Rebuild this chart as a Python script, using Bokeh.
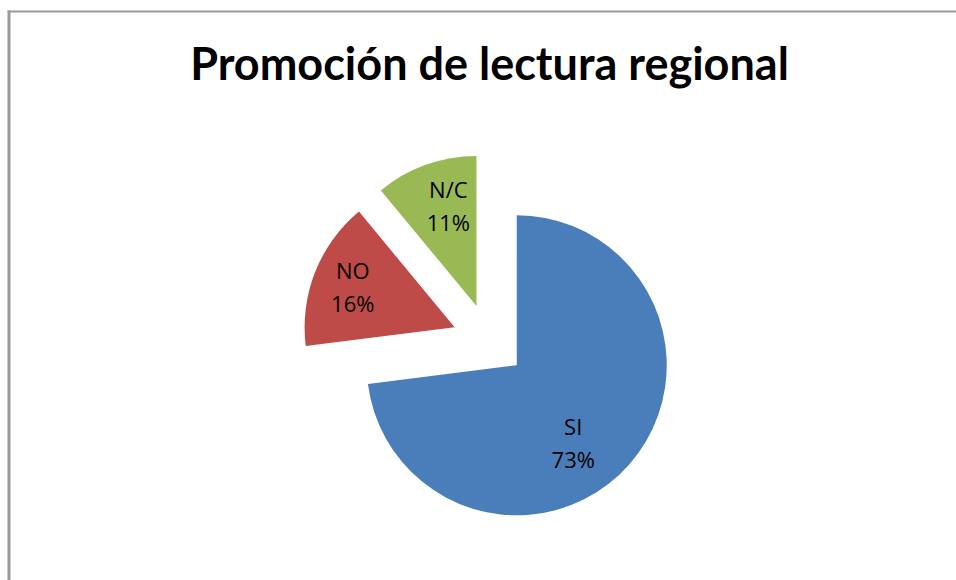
import math
from bokeh.plotting import figure
from bokeh.models import Range1d, ColumnDataSource
from bokeh.core.properties import value
from bokeh.embed import file_html
from bokeh.resources import INLINE

# ---- data ----
categories = ["SI", "NO", "N/C"]
percents = [73, 16, 11]
colors = ["#4A7EBB", "#BE4B48", "#98B954"]
title_text = "Promoción de lectura regional"

# ---- layout (screen px) ----
W, H = 956, 580
cx, cy_screen = 488.5, 340.3
cy = H - cy_screen
R = 150
EXPLODE = 37
label_r = [97, 109, 102]
label_shift = [-13.0, 0.7, -3.8]
line_gap = 16.5

p = figure(width=W, height=H, output_backend="svg", toolbar_location=None,
           x_range=Range1d(0, W), y_range=Range1d(0, H),
           min_border=0)
p.axis.visible = False
p.grid.visible = False
p.outline_line_color = None
p.background_fill_color = "white"
p.border_fill_color = "white"

total = sum(percents)
xs, ys, sa, ea, lx, ly = [], [], [], [], [], []
cum = 0.0
for i, v in enumerate(percents):
    s = cum / total
    e = (cum + v) / total
    cum += v
    th_s = math.radians(90 - s * 360)
    th_e = math.radians(90 - e * 360)
    mid = (th_s + th_e) / 2
    vx = cx + EXPLODE * math.cos(mid)
    vy = cy + EXPLODE * math.sin(mid)
    xs.append(vx); ys.append(vy); sa.append(th_e); ea.append(th_s)
    la = mid + math.radians(label_shift[i])
    lx.append(vx + label_r[i] * math.cos(la))
    ly.append(vy + label_r[i] * math.sin(la))

src = ColumnDataSource(dict(x=xs, y=ys, start=sa, end=ea, color=colors,
                            lx=lx, ly_top=[y + line_gap + 2 for y in ly],
                            ly_bot=[y - line_gap + 2 for y in ly],
                            name=categories, pct=[f"{v}%" for v in percents]))

p.wedge(x="x", y="y", radius=R, start_angle="start", end_angle="end",
        fill_color="color", line_color=None, source=src)

p.text(x="lx", y="ly_top", text="name", source=src, text_align="center",
       text_baseline="middle", text_font=value("Open Sans"), text_font_size="22px",
       text_color="black")
p.text(x="lx", y="ly_bot", text="pct", source=src, text_align="center",
       text_baseline="middle", text_font=value("Open Sans"), text_font_size="22px",
       text_color="black")

# title
p.text(x=[489], y=[H - 62], text=[title_text], text_align="center",
       text_baseline="alphabetic", text_font=value("Lato"),
       text_font_style="bold", text_font_size="45px", text_color="black")

# chart border (top and left edges visible)
p.line(x=[8.5, 8.5], y=[H - 10, 0], line_color="#999999", line_width=3)
p.line(x=[7, W], y=[H - 11, H - 11], line_color="#999999", line_width=2)

open("out.html", "w").write(file_html(p, INLINE))
